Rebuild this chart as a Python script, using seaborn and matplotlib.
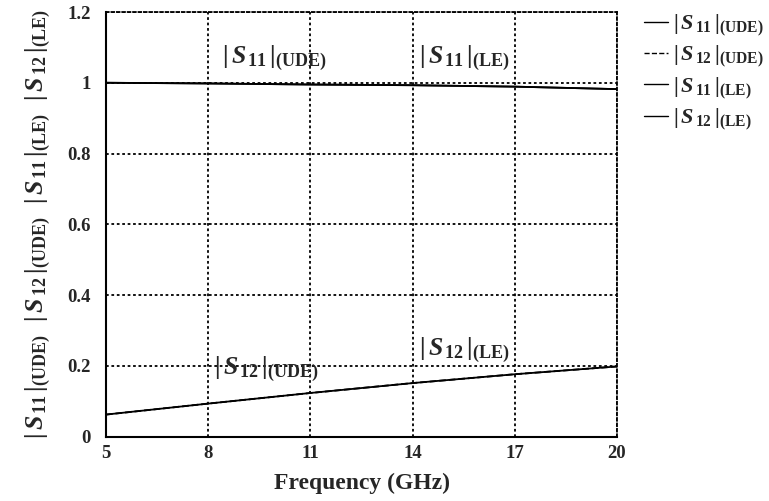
import matplotlib
matplotlib.use("Agg")
import matplotlib.pyplot as plt
import seaborn as sns
import pandas as pd
from matplotlib.lines import Line2D

# ---- data ----
freq = [5, 8, 11, 14, 17, 20]
s11_ude = [1.000, 0.998, 0.995, 0.993, 0.989, 0.982]
s12_ude = [0.062, 0.093, 0.123, 0.151, 0.176, 0.198]
s11_le = [1.000, 0.998, 0.995, 0.993, 0.989, 0.982]
s12_le = [0.062, 0.093, 0.123, 0.151, 0.176, 0.198]
x_ticks = [5, 8, 11, 14, 17, 20]
y_ticks = [0, 0.2, 0.4, 0.6, 0.8, 1.0, 1.2]
y_tick_labels = ["0", "0.2", "0.4", "0.6", "0.8", "1", "1.2"]

sns.set_theme(style="white")
plt.rcParams["font.family"] = ["Liberation Serif", "DejaVu Serif"]
plt.rcParams["font.weight"] = "bold"
plt.rcParams["mathtext.fontset"] = "custom"
plt.rcParams["mathtext.rm"] = "Liberation Serif:bold"
plt.rcParams["mathtext.it"] = "Liberation Serif:bold:italic"
plt.rcParams["mathtext.bf"] = "Liberation Serif:bold"

def lbl(sub, mode):
    return r"$|\,\mathit{S}_{\,\mathrm{%s}}\,|_{\mathrm{(%s)}}$" % (sub, mode)

df = pd.DataFrame({
    "freq": freq * 4,
    "val": s11_ude + s12_ude + s11_le + s12_le,
    "series": (["s11_ude"] * 6 + ["s12_ude"] * 6 + ["s11_le"] * 6 + ["s12_le"] * 6),
})

fig = plt.figure(figsize=(7.69, 5.01), dpi=100)
ax = fig.add_axes([106 / 769, 1 - 436.5 / 501, 511 / 769, 424.5 / 501])

styles = {"s11_ude": "-", "s12_ude": "--", "s11_le": "-", "s12_le": "-"}
for key, ls in styles.items():
    sub = df[df["series"] == key]
    sns.lineplot(data=sub, x="freq", y="val", ax=ax, color="black",
                 linestyle=ls, linewidth=1.3, legend=False)

ax.set_xlim(5, 20)
ax.set_ylim(0, 1.2)
ax.set_xticks(x_ticks)
ax.set_xticklabels([str(t) for t in x_ticks])
ax.set_yticks(y_ticks)
ax.set_yticklabels(y_tick_labels)
ax.tick_params(axis="both", length=0, labelsize=13.5)
ax.tick_params(axis="y", pad=11)
ax.tick_params(axis="x", pad=6)
for t in ax.get_xticklabels() + ax.get_yticklabels():
    t.set_fontweight("bold")
ax.grid(True, color="black", linestyle=(0, (1.5, 1.5)), linewidth=1.3)

for side in ["left", "bottom"]:
    ax.spines[side].set_color("black")
    ax.spines[side].set_linewidth(1.5)
for side in ["top", "right"]:
    ax.spines[side].set_color("black")
    ax.spines[side].set_linestyle((0, (1.5, 1.5)))
    ax.spines[side].set_linewidth(1.3)

ax.set_xlabel("Frequency (GHz)", fontsize=17, fontweight="bold", labelpad=8)
ylab = (lbl("11", "UDE") + r"$\ \ $" + lbl("12", "UDE") + r"$\ \ $"
        + lbl("11", "LE") + r"$\ \ $" + lbl("12", "LE"))
ax.set_ylabel(ylab, fontsize=18.5, labelpad=10)

ax.text(8.4, 1.07, lbl("11", "UDE"), fontsize=18.5, ha="left", va="center")
ax.text(14.2, 1.07, lbl("11", "LE"), fontsize=18.5, ha="left", va="center")
ax.text(8.17, 0.19, lbl("12", "UDE"), fontsize=18.5, ha="left", va="center")
ax.text(14.2, 0.245, lbl("12", "LE"), fontsize=18.5, ha="left", va="center")

handles = [
    Line2D([], [], color="black", linestyle="-", linewidth=1.0),
    Line2D([], [], color="black", linestyle="--", linewidth=1.0),
    Line2D([], [], color="black", linestyle="-", linewidth=1.0),
    Line2D([], [], color="black", linestyle="-", linewidth=1.0),
]
labels = [lbl("11", "UDE"), lbl("12", "UDE"), lbl("11", "LE"), lbl("12", "LE")]
ax.legend(handles, labels, loc="upper left", bbox_to_anchor=(1.035, 1.02),
          frameon=False, fontsize=16, handlelength=1.1, handletextpad=0.2,
          labelspacing=0.25, borderaxespad=0)

fig.savefig("out.png", dpi=100)
